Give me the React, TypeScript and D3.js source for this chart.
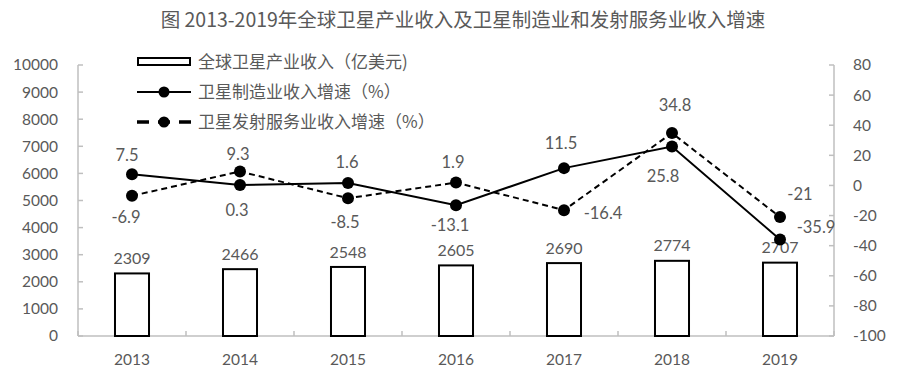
import React from "react";
import * as d3 from "d3";

const years = ["2013", "2014", "2015", "2016", "2017", "2018", "2019"];
const revenue = [2309, 2466, 2548, 2605, 2690, 2774, 2707];
const mfgGrowth = [7.5, 0.3, 1.6, -13.1, 11.5, 25.8, -35.9];
const launchGrowth = [-6.9, 9.3, -8.5, 1.9, -16.4, 34.8, -21];
const leftTicks = [0, 1000, 2000, 3000, 4000, 5000, 6000, 7000, 8000, 9000, 10000];
const rightTicks = [-100, -80, -60, -40, -20, 0, 20, 40, 60, 80];
const title = "图 2013-2019年全球卫星产业收入及卫星制造业和发射服务业收入增速";
const legendLabels = ["全球卫星产业收入（亿美元)", "卫星制造业收入增速（%）", "卫星发射服务业收入增速（%）"];

// label placement offsets: [dx, dy] relative to point
const mfgLabelPos: [number, number][] = [[-5, -19], [-3, 25], [-1, -21], [-6, 20], [-3, -25], [-9, 30], [36, -12]];
const launchLabelPos: [number, number][] = [[-6, 21], [-2, -17], [-3, 24], [-3, -20], [39, 3], [3, -28], [20, -23]];

export default function App() {
  const W = 914, H = 380;
  const left = 78, right = 834, top = 65, bottom = 336;
  const x = d3.scaleBand().domain(years).range([left, right]).paddingInner(0.685).paddingOuter(0.3425);
  const xc = (i: number) => (x(years[i]) as number) + x.bandwidth() / 2;
  const yL = d3.scaleLinear().domain([0, 10000]).range([bottom, top]);
  const yR = d3.scaleLinear().domain([-100, 80]).range([bottom, top]);
  const step = (right - left) / years.length;
  const gray = "#595959";
  const axisC = "#bfbfbf";
  const font = "Lato, 'Liberation Sans', sans-serif";
  const cjk = "'Noto Sans CJK SC', sans-serif";

  const lineGen = (vals: number[]) =>
    d3.line<number>().x((_, i) => xc(i)).y((v) => yR(v))(vals) as string;

  return (
    <svg width={W} height={H} style={{ position: "absolute", left: 0, top: 0, background: "#fff" }}>
      <rect width={W} height={H} fill="#fff" />
      <text x={463} y={20} dy="0.35em" textAnchor="middle" fontSize={19.5} fill={gray} fontFamily={cjk}>{title}</text>

      {/* axes */}
      <line x1={left} x2={left} y1={top} y2={bottom} stroke={axisC} strokeWidth={1.5} />
      <line x1={right} x2={right} y1={top} y2={bottom} stroke={axisC} strokeWidth={1.5} />
      <line x1={left} x2={right} y1={bottom} y2={bottom} stroke={axisC} strokeWidth={1.5} />
      {leftTicks.map((t) => (
        <g key={"l" + t}>
          <line x1={left} x2={left + 5} y1={yL(t)} y2={yL(t)} stroke={axisC} strokeWidth={1.5} />
          <text x={left - 20} y={yL(t)} dy="0.35em" textAnchor="end" fontSize={15.5} fill={gray} fontFamily={font}>{t}</text>
        </g>
      ))}
      {rightTicks.map((t) => (
        <g key={"r" + t}>
          <line x1={right - 5} x2={right} y1={yR(t)} y2={yR(t)} stroke={axisC} strokeWidth={1.5} />
          <text x={right + 19} y={yR(t)} dy="0.35em" textAnchor="start" fontSize={15.5} fill={gray} fontFamily={font}>{t}</text>
        </g>
      ))}
      {d3.range(years.length + 1).map((i) => (
        <line key={"xt" + i} x1={left + i * step} x2={left + i * step} y1={bottom} y2={bottom - 5} stroke={axisC} strokeWidth={1.5} />
      ))}
      {years.map((yr, i) => (
        <text key={"xl" + yr} x={xc(i)} y={360} dy="0.35em" textAnchor="middle" fontSize={15.5} fill={gray} fontFamily={font}>{yr}</text>
      ))}

      {/* bars */}
      {revenue.map((v, i) => (
        <g key={"b" + i}>
          <rect x={x(years[i])} y={yL(v)} width={x.bandwidth()} height={yL(0) - yL(v)} fill="#fff" stroke="#000" strokeWidth={2} />
          <text x={xc(i)} y={yL(v) - 15} dy="0.35em" textAnchor="middle" fontSize={16} fill={gray} fontFamily={font}>{v}</text>
        </g>
      ))}

      {/* lines */}
      <path d={lineGen(launchGrowth)} fill="none" stroke="#000" strokeWidth={2} strokeDasharray="6,4" />
      <path d={lineGen(mfgGrowth)} fill="none" stroke="#000" strokeWidth={2} />
      {launchGrowth.map((v, i) => (
        <circle key={"lc" + i} cx={xc(i)} cy={yR(v)} r={6} fill="#000" />
      ))}
      {mfgGrowth.map((v, i) => (
        <circle key={"mc" + i} cx={xc(i)} cy={yR(v)} r={6} fill="#000" />
      ))}
      {mfgGrowth.map((v, i) => (
        <text key={"ml" + i} x={xc(i) + mfgLabelPos[i][0]} y={yR(v) + mfgLabelPos[i][1]} dy="0.35em" textAnchor="middle" fontSize={16.5} fill={gray} fontFamily={font}>{v}</text>
      ))}
      {launchGrowth.map((v, i) => (
        <text key={"ll" + i} x={xc(i) + launchLabelPos[i][0]} y={yR(v) + launchLabelPos[i][1]} dy="0.35em" textAnchor="middle" fontSize={16.5} fill={gray} fontFamily={font}>{v}</text>
      ))}

      {/* legend */}
      <rect x={138} y={58} width={52} height={7} fill="#fff" stroke="#000" strokeWidth={2} />
      <text x={198} y={62} dy="0.35em" fontSize={17} fill={gray} fontFamily={cjk}>{legendLabels[0]}</text>
      <line x1={137} x2={191} y1={92} y2={92} stroke="#000" strokeWidth={2} />
      <circle cx={164} cy={92} r={5.5} fill="#000" />
      <text x={198} y={92} dy="0.35em" fontSize={17} fill={gray} fontFamily={cjk}>{legendLabels[1]}</text>
      <line x1={137} x2={191} y1={122} y2={122} stroke="#000" strokeWidth={3.5} strokeDasharray="12,9" />
      <circle cx={164} cy={122} r={5.5} fill="#000" />
      <text x={198} y={122} dy="0.35em" fontSize={17} fill={gray} fontFamily={cjk}>{legendLabels[2]}</text>
    </svg>
  );
}
